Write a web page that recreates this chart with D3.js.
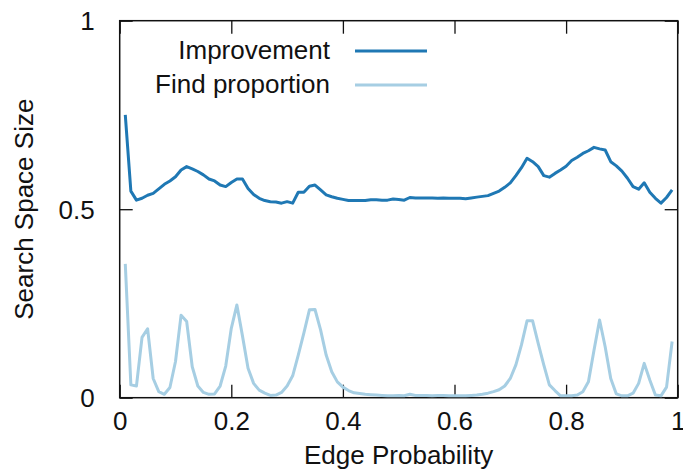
<!DOCTYPE html>
<html>
<head>
<meta charset="utf-8">
<script src="https://cdn.jsdelivr.net/npm/d3@7"></script>
<style>
  body { margin: 0; background: #fff; }
  text { font-family: "Liberation Sans", Arial, sans-serif; fill: #111; }
</style>
</head>
<body>
<svg id="chart" width="683" height="470"></svg>
<script>
// edge probabilities (x)
const edgeProb = [
  0.01,0.02,0.03,0.04,0.05,0.06,0.07,0.08,0.09,0.10,
  0.11,0.12,0.13,0.14,0.15,0.16,0.17,0.18,0.19,0.20,
  0.21,0.22,0.23,0.24,0.25,0.26,0.27,0.28,0.29,0.30,
  0.31,0.32,0.33,0.34,0.35,0.36,0.37,0.38,0.39,0.40,
  0.41,0.42,0.43,0.44,0.45,0.46,0.47,0.48,0.49,0.50,
  0.51,0.52,0.53,0.54,0.55,0.56,0.57,0.58,0.59,0.60,
  0.61,0.62,0.63,0.64,0.65,0.66,0.67,0.68,0.69,0.70,
  0.71,0.72,0.73,0.74,0.75,0.76,0.77,0.78,0.79,0.80,
  0.81,0.82,0.83,0.84,0.85,0.86,0.87,0.88,0.89,0.90,
  0.91,0.92,0.93,0.94,0.95,0.96,0.97,0.98,0.99
];

const improvement = [
  0.750,0.548,0.524,0.529,0.537,0.542,0.554,0.566,0.575,0.586,
  0.604,0.613,0.607,0.600,0.591,0.580,0.575,0.564,0.560,0.571,
  0.580,0.580,0.555,0.539,0.529,0.523,0.520,0.519,0.516,0.520,
  0.516,0.545,0.545,0.561,0.564,0.551,0.538,0.533,0.529,0.526,
  0.523,0.523,0.523,0.523,0.525,0.525,0.524,0.524,0.527,0.526,
  0.524,0.531,0.530,0.530,0.530,0.530,0.529,0.530,0.529,0.529,
  0.529,0.528,0.530,0.532,0.534,0.536,0.542,0.548,0.558,0.570,
  0.589,0.610,0.635,0.626,0.613,0.589,0.585,0.595,0.604,0.614,
  0.629,0.638,0.648,0.655,0.664,0.660,0.657,0.626,0.615,0.601,
  0.582,0.560,0.553,0.570,0.545,0.529,0.516,0.531,0.551
];

const findProportion = [
  0.355,0.034,0.031,0.160,0.183,0.051,0.016,0.009,0.027,0.096,
  0.219,0.202,0.082,0.031,0.014,0.009,0.010,0.031,0.084,0.184,
  0.246,0.164,0.078,0.038,0.020,0.012,0.006,0.007,0.014,0.031,
  0.058,0.113,0.171,0.233,0.234,0.180,0.113,0.069,0.042,0.028,
  0.019,0.013,0.011,0.009,0.008,0.007,0.006,0.005,0.005,0.006,
  0.005,0.009,0.006,0.006,0.006,0.005,0.006,0.006,0.005,0.005,
  0.005,0.005,0.006,0.007,0.009,0.012,0.016,0.021,0.031,0.051,
  0.087,0.140,0.204,0.204,0.144,0.087,0.034,0.019,0.005,0.005,
  0.005,0.007,0.016,0.042,0.126,0.206,0.135,0.051,0.010,0.005,
  0.005,0.012,0.038,0.091,0.047,0.007,0.005,0.028,0.149
];

const xTicks = [0, 0.2, 0.4, 0.6, 0.8, 1];
const yTicks = [0, 0.5, 1];
const seriesNames = ["Improvement", "Find proportion"];
const seriesColors = ["#1f78b4", "#a6cee3"];

const margin = { top: 20.7, right: 5.3, bottom: 72.3, left: 119.7 };
const W = 683, H = 470;
const iw = W - margin.left - margin.right;
const ih = H - margin.top - margin.bottom;

const svg = d3.select("#chart");
const g = svg.append("g").attr("transform", `translate(${margin.left},${margin.top})`);

const x = d3.scaleLinear().domain([0, 1]).range([0, iw]);
const y = d3.scaleLinear().domain([0, 1]).range([ih, 0]);

const fmt = d => (d === 0 || d === 1) ? d3.format("d")(d) : String(d);
const tickLen = 13;

// axes, ticks pointing inward, mirrored on top/right
const axes = [
  { ax: d3.axisBottom(x).tickValues(xTicks).tickFormat(fmt), tr: `translate(0,${ih})`, labels: true },
  { ax: d3.axisTop(x).tickValues(xTicks).tickFormat(""), tr: "translate(0,0)", labels: false },
  { ax: d3.axisLeft(y).tickValues(yTicks).tickFormat(fmt), tr: "translate(0,0)", labels: true },
  { ax: d3.axisRight(y).tickValues(yTicks).tickFormat(""), tr: `translate(${iw},0)`, labels: false }
];
axes.forEach((a, i) => {
  a.ax.tickSizeInner(-tickLen).tickSizeOuter(0).tickPadding(0);
  const sel = g.append("g").attr("transform", a.tr).call(a.ax);
  sel.select(".domain").remove();
  sel.selectAll(".tick line").attr("stroke", "#111").attr("stroke-width", 1.3);
  sel.selectAll("text").attr("fill", "#111").style("font-size", "26px")
    .style("font-family", '"Liberation Sans", Arial, sans-serif');
  if (i === 0) sel.selectAll("text").attr("y", 0).attr("dy", "32.5px");
  if (i === 2) sel.selectAll("text").attr("x", -25).attr("dy", "0.35em");
});

// frame
g.append("rect").attr("width", iw).attr("height", ih)
  .attr("fill", "none").attr("stroke", "#111").attr("stroke-width", 1.5);

// lines
const line = d3.line().x((d, i) => x(edgeProb[i])).y(d => y(d));
[improvement, findProportion].forEach((s, k) => {
  g.append("path").datum(s)
    .attr("d", line)
    .attr("fill", "none")
    .attr("stroke", seriesColors[k])
    .attr("stroke-width", 3)
    .attr("stroke-linejoin", "round");
});

// legend
const leg = svg.append("g");
seriesNames.forEach((name, k) => {
  const ly = 51 + k * 34;
  leg.append("text").attr("x", 330).attr("y", ly + 8).attr("text-anchor", "end")
    .style("font-size", "26px").text(name);
  leg.append("line").attr("x1", 355).attr("x2", 427).attr("y1", ly).attr("y2", ly)
    .attr("stroke", seriesColors[k]).attr("stroke-width", 3);
});

// axis titles
svg.append("text").attr("x", margin.left + iw / 2).attr("y", 464)
  .attr("text-anchor", "middle").style("font-size", "26px").text("Edge Probability");
svg.append("text").attr("transform", `translate(33,${margin.top + ih / 2}) rotate(-90)`)
  .attr("text-anchor", "middle").style("font-size", "26px").text("Search Space Size");
</script>
</body>
</html>
